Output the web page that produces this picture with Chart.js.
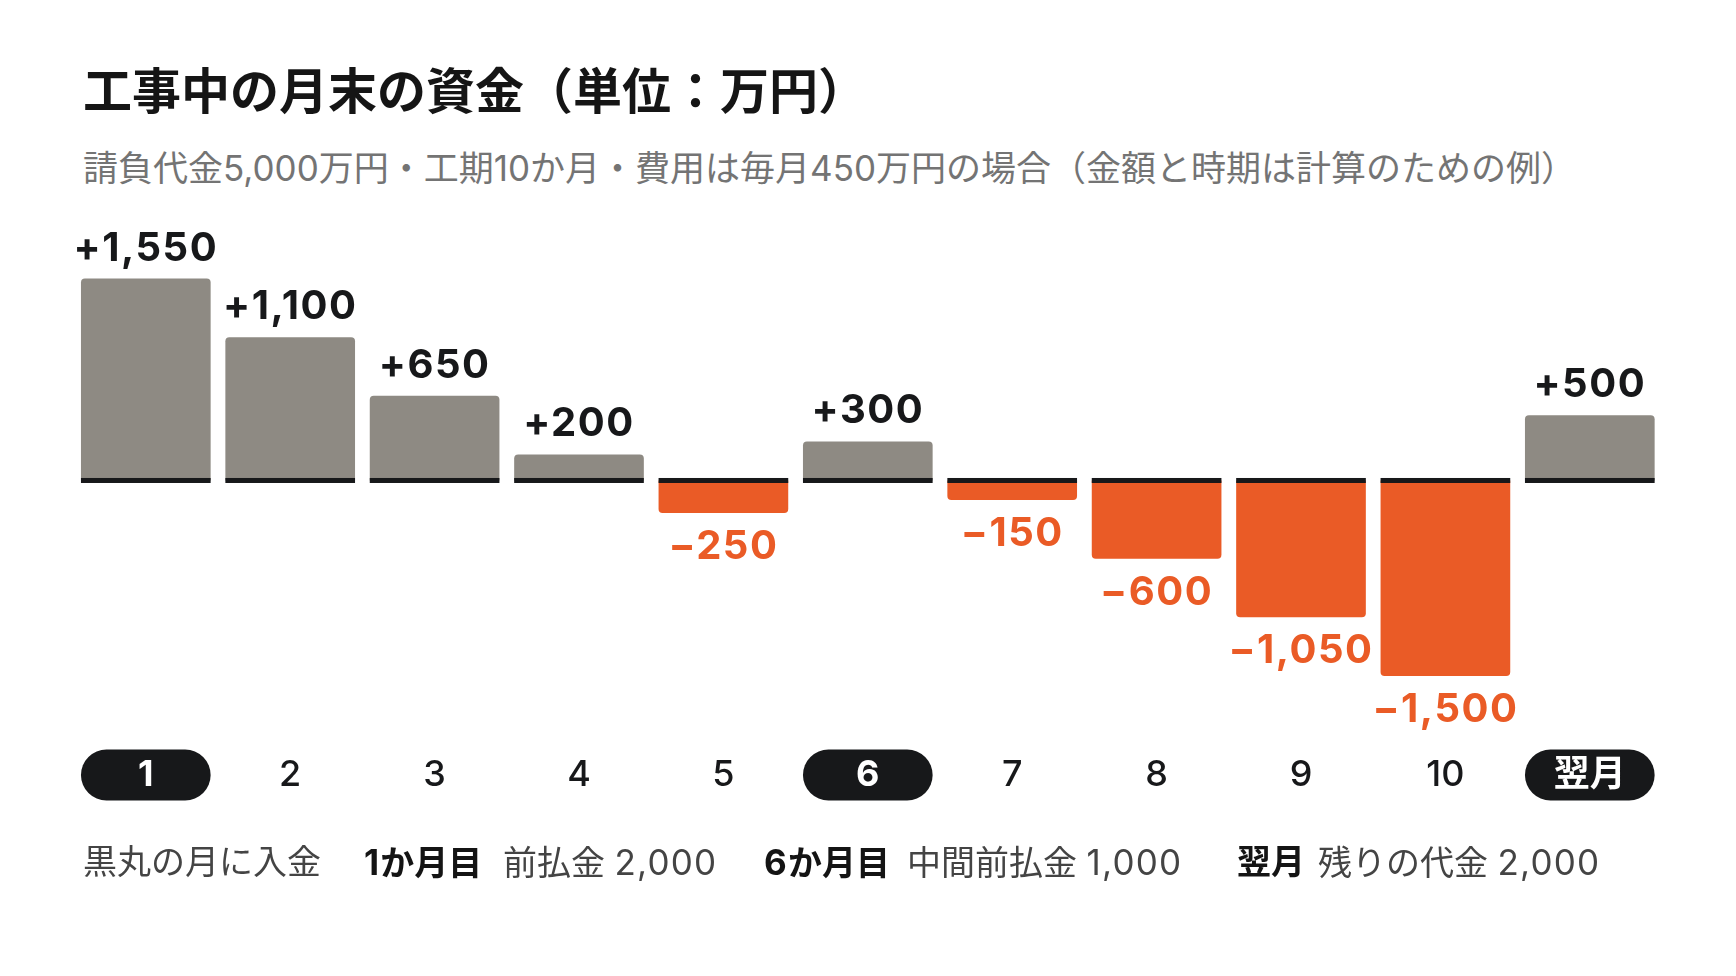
<!DOCTYPE html>
<html lang="ja">
<head>
<meta charset="utf-8">
<script src="https://cdn.jsdelivr.net/npm/chart.js@4/dist/chart.umd.min.js"></script>
<style>
  html, body { margin: 0; padding: 0; background: #ffffff; }
  body { width: 1736px; height: 976px; position: relative; overflow: hidden;
         font-family: "Noto Sans CJK JP", "Noto Sans", sans-serif; }
  #chart { position: absolute; left: 0; top: 0; }
  .title { position: absolute; left: 83px; top: 63px; font-size: 49px; line-height: 49px;
           font-weight: 700; color: #151515; white-space: nowrap; }
  .subtitle { position: absolute; left: 83px; top: 151px; font-size: 35px; line-height: 35px;
              font-family: Inter, "Noto Sans CJK JP", sans-serif;
              font-weight: 400; color: #747474; white-space: nowrap; }
  .note span, .note b { position: absolute; top: 845px; font-size: 34px; line-height: 34px;
          font-family: Inter, "Noto Sans CJK JP", sans-serif;
          color: #444444; white-space: nowrap; }
  .note b { color: #141414; font-weight: 700; }
  .note i { font-style: normal; font-size: 35px; letter-spacing: 1.2px; }
</style>
</head>
<body>
<div class="title">工事中の月末の資金（単位：万円）</div>
<div class="subtitle">請負代金5,000万円・工期10か月・費用は毎月450万円の場合（金額と時期は計算のための例）</div>
<canvas id="chart" width="1736" height="976"></canvas>
<div class="note">
  <span style="left:83px">黒丸の月に入金</span>
  <b style="left:364px"><i>1</i>か月目</b>
  <span style="left:503px">前払金 <i>2,000</i></span>
  <b style="left:764px"><i>6</i>か月目</b>
  <span style="left:907px">中間前払金 <i>1,000</i></span>
  <b style="left:1237px">翌月</b>
  <span style="left:1318px">残りの代金 <i>2,000</i></span>
</div>
<script>
// ---- data ----
const months = ['1', '2', '3', '4', '5', '6', '7', '8', '9', '10', '翌月'];
const balances = [1550, 1100, 650, 200, -250, 300, -150, -600, -1050, -1500, 500];
const paymentMonths = ['1', '6', '翌月'];

// ---- style ----
const GRAY = '#8e8a83';
const ORANGE = '#ea5b26';
const INK = '#17181a';
const FONT = 'Inter, "Noto Sans CJK JP", "Noto Sans", sans-serif';

function fmt(v) {
  const s = Math.abs(v).toLocaleString('en-US');
  return (v >= 0 ? '+' : '\u2212') + s;
}

const pillPlugin = {
  id: 'pills',
  beforeDraw(chart) {
    const ctx = chart.ctx;
    const meta = chart.getDatasetMeta(0);
    const xs = chart.scales.x;
    const cy = chart.chartArea.bottom + 60;
    const h = 51;
    ctx.save();
    ctx.fillStyle = INK;
    months.forEach((m, i) => {
      if (!paymentMonths.includes(m)) return;
      const el = meta.data[i];
      const w = el ? el.width : 130;
      const cx = xs.getPixelForValue(i);
      ctx.beginPath();
      ctx.roundRect(cx - w / 2, cy - h / 2, w, h, h / 2);
      ctx.fill();
    });
    ctx.restore();
  }
};

const labelPlugin = {
  id: 'valueLabels',
  afterDatasetsDraw(chart) {
    const ctx = chart.ctx;
    const meta = chart.getDatasetMeta(0);
    const zero = chart.scales.y.getPixelForValue(0);
    ctx.save();
    ctx.fillStyle = INK;
    meta.data.forEach((el) => {
      ctx.fillRect(el.x - el.width / 2, zero - 2.5, el.width, 5);
    });
    ctx.font = '700 40px ' + FONT;
    if ('letterSpacing' in ctx) ctx.letterSpacing = '1.5px';
    ctx.textAlign = 'center';
    ctx.textBaseline = 'alphabetic';
    meta.data.forEach((el, i) => {
      const v = balances[i];
      if (v >= 0) {
        ctx.fillStyle = INK;
        ctx.fillText(fmt(v), el.x, el.y - 18);
      } else {
        ctx.fillStyle = ORANGE;
        ctx.fillText(fmt(v), el.x, el.y + 46);
      }
    });
    ctx.restore();
  }
};

new Chart(document.getElementById('chart'), {
  type: 'bar',
  data: {
    labels: months,
    datasets: [{
      data: balances,
      backgroundColor: balances.map(v => v >= 0 ? GRAY : ORANGE),
      borderRadius: 4,
      borderWidth: 0,
      categoryPercentage: 1,
      barPercentage: 0.898
    }]
  },
  options: {
    responsive: false,
    animation: false,
    devicePixelRatio: 1,
    layout: { padding: { left: 73.6, right: 74, top: 259, bottom: 179 } },
    plugins: {
      legend: { display: false },
      tooltip: { enabled: false },
      title: { display: false }
    },
    scales: {
      x: {
        grid: { display: false, drawTicks: false },
        border: { display: false },
        afterFit(scale) { scale.height = 82; },
        ticks: {
          padding: 39,
          color: (c) => paymentMonths.includes(months[c.index]) ? '#ffffff' : INK,
          font: (c) => ({
            family: FONT,
            size: 36,
            weight: paymentMonths.includes(months[c.index]) ? '700' : '500'
          })
        }
      },
      y: {
        display: false,
        min: -1800,
        max: 1700
      }
    }
  },
  plugins: [pillPlugin, labelPlugin]
});
</script>
</body>
</html>
